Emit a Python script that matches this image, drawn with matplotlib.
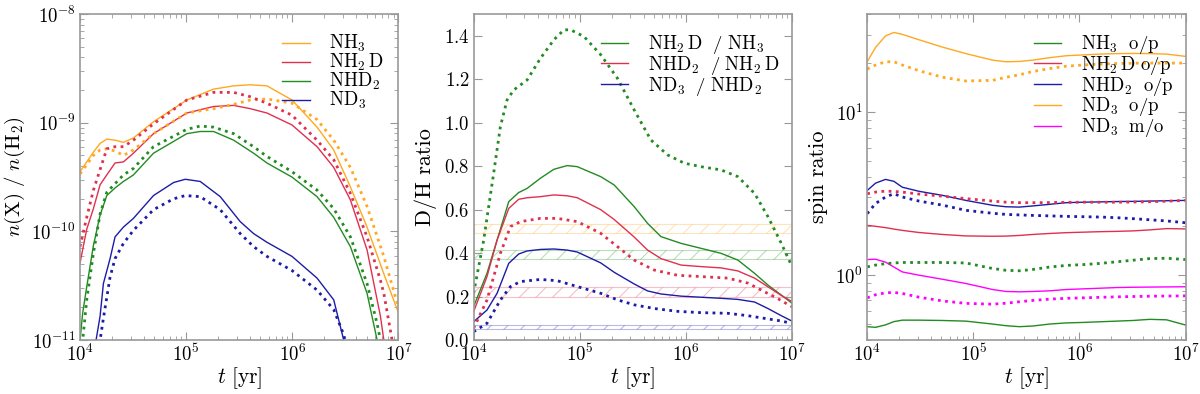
import numpy as np
import matplotlib
matplotlib.use("Agg")
import matplotlib.pyplot as plt

plt.rcParams['font.family'] = 'serif'
plt.rcParams['font.serif'] = ['cmr10', 'DejaVu Serif']
plt.rcParams['mathtext.fontset'] = 'cm'
plt.rcParams['axes.formatter.use_mathtext'] = True
plt.rcParams['axes.unicode_minus'] = False
plt.rcParams['hatch.linewidth'] = 0.8

c_or = '#ffa820'
c_rd = '#e0304f'
c_gr = '#228b22'
c_bl = '#1c1ca8'
c_mg = '#ff00ff'

# ---------- panel 1: abundances (log10 t, log10 n/nH2) ----------
t_nh3 = [4.0, 4.126, 4.189, 4.252, 4.33, 4.409, 4.503, 4.692, 5.006, 5.258, 5.447, 5.604, 5.761, 5.997, 6.233, 6.39, 6.547, 6.704, 6.862, 7.0]
nh3 = [-9.45, -9.27, -9.19, -9.15, -9.16, -9.18, -9.14, -8.99, -8.79, -8.69, -8.66, -8.65, -8.66, -8.79, -9.04, -9.25, -9.59, -9.96, -10.39, -10.75]
nh3_d = [-9.47, -9.30, -9.25, -9.24, -9.26, -9.30, -9.25, -9.10, -8.91, -8.87, -8.83, -8.79, -8.78, -8.82, -8.97, -9.16, -9.41, -9.77, -10.23, -10.70]

t_nh2d = [4.0, 4.063, 4.126, 4.189, 4.252, 4.33, 4.409, 4.503, 4.692, 5.006, 5.258, 5.447, 5.604, 5.761, 5.997, 6.233, 6.39, 6.547, 6.704, 6.83, 6.862, 6.94, 7.0]
nh2d = [-10.29, -9.98, -9.79, -9.57, -9.48, -9.37, -9.36, -9.28, -9.10, -8.91, -8.85, -8.84, -8.87, -8.91, -9.02, -9.22, -9.41, -9.71, -10.17, -10.78, -11.0, -11.3, -11.5]
nh2d_d = [-10.14, -9.87, -9.62, -9.43, -9.24, -9.22, -9.22, -9.16, -9.01, -8.79, -8.72, -8.72, -8.76, -8.82, -8.93, -9.16, -9.34, -9.65, -10.05, -10.45, -10.57, -11.0, -11.2]

t_nhd2 = [4.0, 4.025, 4.063, 4.126, 4.189, 4.252, 4.33, 4.409, 4.503, 4.692, 5.006, 5.132, 5.258, 5.447, 5.635, 5.761, 5.997, 6.233, 6.39, 6.547, 6.704, 6.799, 6.83, 6.862]
nhd2 = [-11.0, -10.75, -10.51, -10.13, -9.85, -9.67, -9.60, -9.54, -9.48, -9.28, -9.10, -9.08, -9.08, -9.16, -9.28, -9.37, -9.50, -9.68, -9.87, -10.14, -10.57, -11.0, -11.1, -11.2]
nhd2_d = [-11.3, -11.0, -10.63, -10.20, -9.84, -9.64, -9.56, -9.48, -9.42, -9.22, -9.06, -9.03, -9.04, -9.10, -9.22, -9.31, -9.45, -9.62, -9.79, -10.05, -10.48, -10.85, -11.0, -11.1]

t_nd3 = [4.151, 4.189, 4.22, 4.283, 4.33, 4.409, 4.503, 4.692, 4.881, 4.991, 5.132, 5.321, 5.509, 5.635, 5.761, 5.997, 6.233, 6.39, 6.484, 6.52]
nd3 = [-11.0, -10.78, -10.48, -10.25, -10.05, -9.96, -9.88, -9.67, -9.55, -9.52, -9.54, -9.68, -9.91, -10.02, -10.10, -10.23, -10.43, -10.63, -11.0, -11.15]
nd3_d = [-11.3, -11.0, -10.80, -10.42, -10.25, -10.11, -9.99, -9.80, -9.70, -9.67, -9.68, -9.80, -10.02, -10.14, -10.23, -10.36, -10.54, -10.72, -10.95, -11.1]

# ---------- panel 2: D/H ratios ----------
t_dh = [4.0, 4.126, 4.221, 4.331, 4.425, 4.504, 4.63, 4.756, 4.882, 4.977, 5.198, 5.324, 5.513, 5.639, 5.765, 5.954, 6.143, 6.332, 6.49, 6.647, 6.773, 6.899, 7.0]
dh1 = [0.154, 0.307, 0.46, 0.637, 0.679, 0.698, 0.745, 0.786, 0.803, 0.798, 0.752, 0.714, 0.614, 0.537, 0.476, 0.445, 0.422, 0.399, 0.368, 0.307, 0.253, 0.207, 0.169]
dh2 = [0.130, 0.292, 0.46, 0.606, 0.648, 0.655, 0.66, 0.668, 0.664, 0.655, 0.600, 0.555, 0.474, 0.414, 0.375, 0.345, 0.338, 0.332, 0.318, 0.285, 0.245, 0.205, 0.177]
dh3 = [0.084, 0.138, 0.215, 0.353, 0.396, 0.41, 0.417, 0.419, 0.414, 0.405, 0.355, 0.312, 0.258, 0.226, 0.212, 0.202, 0.197, 0.192, 0.187, 0.175, 0.145, 0.112, 0.087]

t_dh1d = [4.0, 4.095, 4.189, 4.252, 4.315, 4.378, 4.504, 4.63, 4.756, 4.851, 4.914, 5.04, 5.198, 5.355, 5.513, 5.67, 5.828, 5.985, 6.143, 6.332, 6.49, 6.647, 6.773, 6.899, 7.0]
dh1_d = [0.215, 0.46, 0.768, 0.982, 1.105, 1.151, 1.197, 1.297, 1.382, 1.428, 1.428, 1.397, 1.313, 1.205, 1.059, 0.921, 0.852, 0.814, 0.798, 0.783, 0.752, 0.675, 0.568, 0.445, 0.338]
t_dhd = [4.0, 4.126, 4.252, 4.347, 4.441, 4.63, 4.788, 4.977, 5.198, 5.355, 5.513, 5.702, 5.922, 6.143, 6.395, 6.584, 6.71, 6.868, 7.0]
dh2_d = [0.054, 0.184, 0.399, 0.522, 0.545, 0.56, 0.56, 0.545, 0.491, 0.43, 0.368, 0.322, 0.298, 0.292, 0.285, 0.262, 0.230, 0.19, 0.153]
dh3_d = [0.038, 0.077, 0.184, 0.246, 0.269, 0.279, 0.273, 0.246, 0.215, 0.185, 0.162, 0.145, 0.132, 0.126, 0.123, 0.112, 0.102, 0.09, 0.077]

# observed D/H ranges (low, high)
obs_or = (0.491, 0.533)
obs_gr = (0.371, 0.414)
obs_rd = (0.200, 0.243)
obs_bl = (0.049, 0.069)

# ---------- panel 3: spin ratios (log10) ----------
t_sp = [4.0, 4.079, 4.173, 4.252, 4.331, 4.488, 4.709, 4.93, 5.182, 5.308, 5.434, 5.56, 5.718, 5.875, 6.033, 6.19, 6.348, 6.505, 6.663, 6.821, 7.0]
sp_nh3 = [-0.316, -0.320, -0.305, -0.285, -0.276, -0.276, -0.278, -0.282, -0.300, -0.310, -0.316, -0.312, -0.300, -0.293, -0.290, -0.286, -0.282, -0.278, -0.271, -0.274, -0.306]
sp_nh2d = [0.306, 0.300, 0.292, 0.283, 0.275, 0.262, 0.250, 0.241, 0.239, 0.240, 0.244, 0.250, 0.256, 0.261, 0.264, 0.267, 0.269, 0.272, 0.278, 0.286, 0.284]
sp_nhd2 = [0.520, 0.565, 0.588, 0.576, 0.540, 0.515, 0.490, 0.459, 0.429, 0.420, 0.418, 0.425, 0.435, 0.445, 0.448, 0.450, 0.452, 0.453, 0.455, 0.457, 0.459]
sp_nd3 = [1.310, 1.398, 1.469, 1.490, 1.478, 1.445, 1.400, 1.360, 1.320, 1.310, 1.312, 1.320, 1.335, 1.347, 1.352, 1.357, 1.360, 1.361, 1.360, 1.357, 1.343]
sp_mo = [0.096, 0.098, 0.080, 0.050, 0.020, 0.000, -0.025, -0.051, -0.088, -0.100, -0.102, -0.100, -0.096, -0.088, -0.084, -0.080, -0.076, -0.074, -0.073, -0.072, -0.071]

sp_nh3_d = [0.051, 0.062, 0.071, 0.075, 0.078, 0.078, 0.078, 0.075, 0.041, 0.030, 0.027, 0.035, 0.050, 0.060, 0.065, 0.072, 0.082, 0.092, 0.102, 0.104, 0.096]
sp_nh2d_d = [0.500, 0.510, 0.516, 0.514, 0.510, 0.498, 0.485, 0.470, 0.455, 0.448, 0.445, 0.445, 0.446, 0.447, 0.448, 0.448, 0.448, 0.449, 0.451, 0.454, 0.459]
sp_nhd2_d = [0.378, 0.440, 0.480, 0.500, 0.480, 0.455, 0.430, 0.398, 0.380, 0.373, 0.370, 0.367, 0.364, 0.361, 0.359, 0.357, 0.353, 0.347, 0.340, 0.333, 0.322]
sp_nd3_d = [1.265, 1.290, 1.310, 1.310, 1.290, 1.255, 1.215, 1.192, 1.196, 1.215, 1.230, 1.250, 1.268, 1.283, 1.290, 1.296, 1.299, 1.301, 1.302, 1.302, 1.302]
sp_mo_d = [-0.139, -0.120, -0.108, -0.106, -0.112, -0.135, -0.158, -0.173, -0.178, -0.172, -0.163, -0.155, -0.147, -0.142, -0.139, -0.136, -0.133, -0.131, -0.129, -0.128, -0.127]

dot = (0, (1, 1.6))
lw = 1.0
dlw = 2.0
leg_kw = dict(loc='upper right', frameon=False, fontsize=13.5, handlelength=1.45,
              handletextpad=1.05, labelspacing=-0.12, borderaxespad=0.0)


def style(ax):
    for s in ax.spines.values():
        s.set_color('#999999')
        s.set_linewidth(1.2)
    ax.tick_params(which='both', direction='in', top=True, right=True,
                   colors='#999999', labelcolor='black', labelsize=13.5, pad=3)
    ax.tick_params(which='major', length=6, width=0.8)
    ax.tick_params(which='minor', length=3, width=0.6)
    ax.set_xscale('log')
    ax.set_xlim(1e4, 1e7)
    ax.set_xlabel(r'$t\ [\mathrm{yr}]$', fontsize=15.5, labelpad=0)


def p(arr):
    return 10 ** np.array(arr)


fig, axs = plt.subplots(1, 3, figsize=(12, 3.94), dpi=100)
fig.subplots_adjust(left=0.0667, right=0.988, top=0.964, bottom=0.137, wspace=0.236)

# panel 1
ax = axs[0]
ax.plot(p(t_nh3), p(nh3), color=c_or, lw=lw, label=r'$\mathrm{NH_3}$')
ax.plot(p(t_nh2d), p(nh2d), color=c_rd, lw=lw, label=r'$\mathrm{NH_2\,D}$')
ax.plot(p(t_nhd2), p(nhd2), color=c_gr, lw=lw, label=r'$\mathrm{NHD_2}$')
ax.plot(p(t_nd3), p(nd3), color=c_bl, lw=lw, label=r'$\mathrm{ND_3}$')
ax.plot(p(t_nh3), p(nh3_d), color=c_or, lw=dlw, ls=dot)
ax.plot(p(t_nh2d), p(nh2d_d), color=c_rd, lw=dlw, ls=dot)
ax.plot(p(t_nhd2), p(nhd2_d), color=c_gr, lw=dlw, ls=dot)
ax.plot(p(t_nd3), p(nd3_d), color=c_bl, lw=dlw, ls=dot)
style(ax)
ax.set_yscale('log')
ax.set_ylim(1e-11, 1e-8)
ax.set_ylabel(r'$n(\mathrm{X})\ /\ n(\mathrm{H_2})$', fontsize=15, labelpad=3)
ax.legend(bbox_to_anchor=(0.978, 0.965), **leg_kw)

# panel 2
ax = axs[1]
for (lo, hi), c in [(obs_or, c_or), (obs_gr, c_gr), (obs_rd, c_rd), (obs_bl, c_bl)]:
    ax.axhspan(lo, hi, facecolor='none', edgecolor=c, hatch='//', lw=0.8, alpha=0.3)
ax.plot(p(t_dh), dh1, color=c_gr, lw=lw, label=r'$\mathrm{NH_2\,D\ \ /\ NH_3}$')
ax.plot(p(t_dh), dh2, color=c_rd, lw=lw, label=r'$\mathrm{NHD_2\ \ /\ NH_2\,D}$')
ax.plot(p(t_dh), dh3, color=c_bl, lw=lw, label=r'$\mathrm{ND_3\ \ /\ NHD_2}$')
ax.plot(p(t_dh1d), dh1_d, color=c_gr, lw=dlw, ls=dot)
ax.plot(p(t_dhd), dh2_d, color=c_rd, lw=dlw, ls=dot)
ax.plot(p(t_dhd), dh3_d, color=c_bl, lw=dlw, ls=dot)
style(ax)
ax.set_ylim(0, 1.5)
ax.set_yticks(np.arange(0, 1.41, 0.2))
ax.set_ylabel('D/H ratio', fontsize=16, labelpad=5)
ax.legend(bbox_to_anchor=(0.985, 0.965), **leg_kw)

# panel 3
ax = axs[2]
ax.plot(p(t_sp), p(sp_nh3), color=c_gr, lw=lw, label=r'$\mathrm{NH_3\ \ o/p}$')
ax.plot(p(t_sp), p(sp_nh2d), color=c_rd, lw=lw, label=r'$\mathrm{NH_2\,D\ o/p}$')
ax.plot(p(t_sp), p(sp_nhd2), color=c_bl, lw=lw, label=r'$\mathrm{NHD_2\ \ o/p}$')
ax.plot(p(t_sp), p(sp_nd3), color=c_or, lw=lw, label=r'$\mathrm{ND_3\ \ o/p}$')
ax.plot(p(t_sp), p(sp_mo), color=c_mg, lw=lw, label=r'$\mathrm{ND_3\ \ m/o}$')
ax.plot(p(t_sp), p(sp_nh3_d), color=c_gr, lw=dlw, ls=dot)
ax.plot(p(t_sp), p(sp_nh2d_d), color=c_rd, lw=dlw, ls=dot)
ax.plot(p(t_sp), p(sp_nhd2_d), color=c_bl, lw=dlw, ls=dot)
ax.plot(p(t_sp), p(sp_nd3_d), color=c_or, lw=dlw, ls=dot)
ax.plot(p(t_sp), p(sp_mo_d), color=c_mg, lw=dlw, ls=dot)
style(ax)
ax.set_yscale('log')
ax.set_ylim(0.4, 40)
ax.set_ylabel('spin ratio', fontsize=16, labelpad=5)
ax.legend(bbox_to_anchor=(0.985, 0.965), **leg_kw)

fig.savefig('out.png', dpi=100)
